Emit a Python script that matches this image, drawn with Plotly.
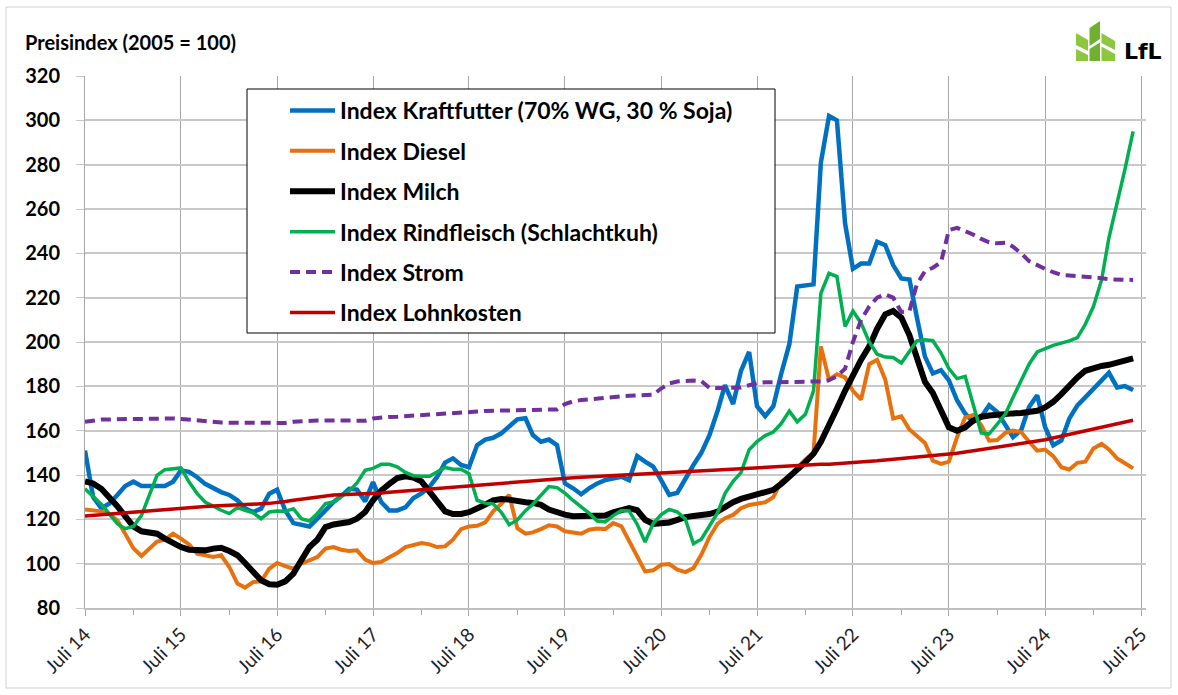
import pandas as pd
import plotly.graph_objects as go

# ---------------- data ----------------
months = pd.date_range("2014-07-01", periods=132, freq="MS").strftime("%Y-%m-%d").tolist()
tick_vals = [f"{y}-07-01" for y in range(2014, 2026)]
tick_text = [f"Juli {y % 100:02d}" for y in range(2014, 2026)]
y_ticks = list(range(80, 321, 20))

kraftfutter = [151, 130, 125, 127, 131, 135, 137, 135, 135, 135, 135, 137,
               142, 141.4, 139, 136, 134, 132.3, 131, 128.6, 125, 123.3, 124.8, 131.6,
               133.4, 124, 118.3, 117.6, 116.8, 120.3, 124.4, 127.8, 130.4, 133.8, 133.4, 128.1,
               136.8, 127.8, 124, 124, 125.4, 129.5, 131.7, 134.7, 139, 145.6, 147.5, 144.5,
               143.5, 153.5, 156, 156.8, 158.8, 161.8, 165.1, 165.6, 158, 155, 156, 153.5,
               136.2, 134, 131.3, 134, 136.2, 137.7, 138.5, 139.2, 137.7, 148.5, 146, 143.8,
               137.7, 131, 132, 138.5, 144.5, 150, 158, 169, 180.5, 172, 187, 195.5,
               171, 166.5, 171, 185.7, 199, 225, 225.3, 226, 281, 302, 300, 253.5,
               233, 235.4, 235.4, 245.2, 243.7, 234.7, 228.7, 228.2, 211.3, 193.4, 185.8, 187.3,
               182.7, 173.7, 167.7, 164, 166.2, 171.4, 168.4, 162.4, 157.1, 160.2, 170.7, 176,
               161.7, 153.4, 155.6, 165.4, 171.4, 175, 179, 183, 186.1, 179.5, 180.1, 178.3]

diesel = [124.4, 124.1, 123.6, 122.3, 119.5, 113.5, 107, 103.5, 106.8, 110, 110.8, 113.5,
          111.3, 108.7, 104.5, 103.8, 103, 103.8, 98.5, 91, 89.2, 91.7, 92, 97.7,
          100.3, 98.9, 97.7, 100, 101.5, 103, 106.8, 107.5, 106.3, 105.7, 106, 101.8,
          100.3, 100.8, 102.9, 104.8, 107.5, 108.3, 109.3, 108.7, 107.5, 107.8, 110.8, 115.6,
          116.8, 117.1, 118.6, 123.6, 127, 131, 116, 113.5, 114.1, 115.6, 117.3, 116.8,
          114.6, 114.1, 113.5, 115.3, 115.9, 115.6, 118.3, 116.8, 110, 103.3, 96.5, 97,
          99.5, 99.8, 97.3, 96.2, 98, 104, 112, 118, 120.5, 122, 125, 126.5,
          127, 127.7, 130, 137, 139.5, 143.5, 147, 150, 198, 183, 185.5, 184,
          178, 174, 190, 192, 183, 165.5, 166.5, 160.5, 157.5, 154.5, 146.5, 145,
          146, 157, 166, 167, 162.5, 155.5, 155.8, 159, 160, 159.4, 155, 151,
          151.5, 148.5, 143.5, 142.5, 145.5, 146, 152, 154, 151.5, 147.5, 145.3, 143]

milch = [137.1, 136.2, 133.8, 130.1, 125.9, 121.4, 116.8, 114.6, 114, 113.5, 111.3, 109,
         107.5, 106.3, 106, 106, 106.8, 107.2, 105.7, 103.8, 100.3, 96.2, 92.5, 90.7,
         90.5, 92, 95.5, 101.5, 107.5, 110.8, 116.5, 117.7, 118.3, 118.8, 120.3, 123.3,
         128.6, 133, 136, 138.6, 139.4, 138.9, 137.1, 132.6, 128.1, 123.6, 122.4, 122.4,
         123.2, 124.7, 126.6, 128.6, 129.2, 128.9, 128, 127.7, 127.4, 126.5, 124.4, 122.9,
         122.1, 121.4, 121.4, 121.4, 121.4, 121.7, 123.2, 124.4, 125.1, 124.1, 119.8, 117.9,
         118, 118.6, 119.8, 121, 121.5, 121.8, 122.4, 123.5, 125.8, 127.7, 129.2, 130.3,
         131.2, 132, 133.3, 136, 139, 142.5, 145.8, 149.6, 155, 162, 170, 178,
         185.5, 192, 198, 206, 212.5, 214, 211, 203, 193, 182, 177, 169,
         161.5, 160, 161.5, 164.5, 166.3, 166.8, 167.3, 167.6, 167.8, 168, 168.2, 169,
         170.5, 173, 176.5, 180.5, 184, 187, 188.3, 189.2, 189.7, 190.5, 191.8, 192.6]

rindfleisch = [133.8, 130.1, 126.8, 122.6, 118, 115.8, 116.8, 121.8, 130.1, 139.8, 142.4, 142.9,
               143.2, 136.8, 131.6, 127.8, 125.9, 124.1, 122.6, 125.3, 124.1, 122.9, 120.3, 123.3,
               123.8, 123.6, 124.8, 120.3, 119.2, 122.6, 127.1, 127.8, 130.1, 132.8, 136.4, 142.1,
               143, 144.8, 144.8, 143.7, 141.2, 139.7, 139.4, 139.4, 141.4, 143.4, 142.6, 142.6,
               140.6, 128.6, 127.3, 127, 123.2, 117.6, 119.7, 123.9, 126.8, 131, 134.8, 134.3,
               131.8, 128.5, 125.7, 122.8, 119.2, 118.8, 121.7, 124, 123.8, 117.8, 109.8, 118.1,
               122.1, 124.5, 123.3, 120.2, 109, 111, 117, 123, 131.6, 137.2, 141.1, 151.4,
               155.1, 157.8, 159.4, 163.2, 168.8, 164, 167.4, 178, 222, 231, 229.5, 207,
               214, 208.5, 200, 194.5, 193.2, 193, 190.5, 195.5, 200.5, 201, 200.6, 195,
               188, 183.5, 184.5, 172, 159, 158.5, 163, 167.5, 175, 183, 190, 195.5,
               197, 198.5, 199.5, 200.5, 202, 208, 216, 228, 247, 262, 278, 295]

strom = [164, 164.5, 165, 165, 165.2, 165.2, 165.3, 165.3, 165.4, 165.4, 165.5, 165.5,
         165.3, 165, 164.5, 164, 163.8, 163.7, 163.6, 163.6, 163.5, 163.5, 163.4, 163.3,
         163.2, 163.5, 164, 164.3, 164.5, 164.6, 164.6, 164.6, 164.6, 164.6, 164.5, 164.5,
         165.5, 166, 166.2, 166.3, 166.5, 166.8, 167.2, 167.4, 167.5, 167.5, 167.6, 167.8,
         168.2, 168.6, 168.9, 169, 169.1, 169.2, 169.3, 169.4, 169.4, 169.4, 169.5, 169.6,
         172, 173.2, 173.8, 174.2, 174.6, 175, 175.3, 175.5, 175.7, 175.9, 176, 176.2,
         179, 181.3, 182.2, 182.5, 182.6, 182.4, 179.3, 179.2, 179.2, 179.3, 179.5, 180.5,
         181.5, 181.8, 181.9, 181.9, 181.9, 182, 182, 182, 182.2, 182.8, 184.5, 188,
         200, 210, 216, 220, 221.5, 220, 213.5, 214, 226, 232, 233.5, 236,
         250.5, 251.5, 250, 248.5, 246.5, 245, 244.5, 244.8, 243, 240, 236.5, 234.5,
         233, 231.5, 230.2, 230, 229.8, 229.6, 229.2, 228.8, 228.3, 228.1, 228, 228]

lohnkosten = [121.5, 121.8, 122.1, 122.4, 122.7, 123.0, 123.3, 123.6, 123.9, 124.2, 124.5, 124.9,
              125.3, 125.5, 125.6, 125.8, 126.0, 126.1, 126.3, 126.5, 126.7, 126.9, 127.0, 127.2,
              127.4, 128.0, 128.6, 129.1, 129.7, 130.3, 130.8, 131.0, 131.1, 131.2, 131.3, 131.5,
              131.6, 131.9, 132.2, 132.5, 132.8, 133.1, 133.4, 133.7, 134.0, 134.3, 134.6, 134.9,
              135.2, 135.5, 135.8, 136.1, 136.3, 136.6, 136.9, 137.2, 137.5, 137.7, 138.0, 138.3,
              138.6, 138.8, 139.0, 139.2, 139.4, 139.6, 139.8, 139.9, 140.1, 140.3, 140.5, 140.7,
              140.9, 141.1, 141.3, 141.5, 141.7, 141.9, 142.1, 142.3, 142.5, 142.7, 142.9, 143.1,
              143.3, 143.5, 143.7, 143.8, 144.0, 144.2, 144.4, 144.6, 144.8, 144.9, 145.1, 145.3,
              145.5, 145.8, 146.1, 146.4, 146.8, 147.1, 147.4, 147.7, 148.0, 148.4, 148.7, 149.0,
              149.3, 149.8, 150.4, 150.9, 151.5, 152.0, 152.6, 153.1, 153.7, 154.2, 154.8, 155.3,
              155.9, 156.7, 157.5, 158.3, 159.1, 159.9, 160.7, 161.5, 162.3, 163.1, 163.9, 164.7]

series_names = ["Index Kraftfutter (70% WG, 30 % Soja)", "Index Diesel", "Index Milch",
                "Index Rindfleisch (Schlachtkuh)", "Index Strom", "Index Lohnkosten"]
series_values = [kraftfutter, diesel, milch, rindfleisch, strom, lohnkosten]
series_colors = ["#0070C0", "#E8710E", "#000000", "#00B050", "#7030A0", "#C00000"]
series_widths = [4.5, 4, 6, 3.5, 4, 3.5]
series_dash = ["solid", "solid", "solid", "solid", "10px,6px", "solid"]

# ---------------- geometry helpers ----------------
W, H = 1178, 695
L, R, T, B = 85, 1146, 76, 608


def px(x):
    return (x - L) / (R - L)


def py(y):
    return (B - y) / (B - T)


def poly(points, color):
    d = "M " + " L ".join(f"{px(x):.5f},{py(y):.5f}" for x, y in points) + " Z"
    return dict(type="path", xref="paper", yref="paper", path=d,
                fillcolor=color, line=dict(width=0), layer="above")


FONT = "Lato"

fig = go.Figure()
for k, (name, vals, col, w, dash) in enumerate(zip(series_names, series_values, series_colors,
                                                   series_widths, series_dash)):
    fig.add_trace(go.Scatter(x=months, y=vals, name=name, mode="lines",
                             legendgroup=f"g{k}",
                             line=dict(color=col, width=w, dash=dash)))

shapes = [
    # outer chart border
    dict(type="rect", xref="paper", yref="paper", x0=px(6), x1=px(1171), y0=py(7), y1=py(688),
         line=dict(color="#D0D0D0", width=1), fillcolor="rgba(0,0,0,0)", layer="below"),
    # legend box
    dict(type="rect", xref="paper", yref="paper", x0=px(247), x1=px(775), y0=py(89), y1=py(333),
         line=dict(color="#000000", width=1), fillcolor="white", layer="above"),
]
# LfL logo leaves
leaf_light = "#8DC63F"
leaf_dark = "#6FB02E"
shapes += [
    poly([(1076, 33), (1088, 40), (1088, 51), (1076, 45)], leaf_light),
    poly([(1076, 49), (1088, 55), (1088, 61), (1076, 61)], leaf_light),
    poly([(1089.5, 28), (1100, 21), (1100, 39), (1089.5, 46)], leaf_dark),
    poly([(1089.5, 49), (1100, 42.5), (1100, 61), (1089.5, 61)], leaf_dark),
    poly([(1101.5, 33), (1115, 41), (1115, 50), (1101.5, 43)], leaf_light),
    poly([(1101.5, 46.5), (1115, 54), (1115, 61), (1101.5, 61)], leaf_light),
]

annotations = [
    dict(text="Preisindex (2005 = 100)", xref="paper", yref="paper", x=px(23), y=py(42),
         xanchor="left", yanchor="middle", showarrow=False,
         font=dict(family=FONT, size=20, color="black", weight="bold")),
    dict(text="LfL", xref="paper", yref="paper", x=px(1143), y=py(52),
         xanchor="center", yanchor="middle", showarrow=False,
         font=dict(family="DejaVu Sans", size=22, color="black", weight="bold")),
]

fig.update_layout(
    width=W, height=H,
    margin=dict(l=L, r=W - R, t=T, b=H - B, pad=0),
    paper_bgcolor="white", plot_bgcolor="white",
    showlegend=True,
    legend=dict(x=px(285), y=py(89), xanchor="left", yanchor="top",
                bgcolor="rgba(0,0,0,0)", borderwidth=0,
                traceorder="grouped", tracegroupgap=7.5, itemwidth=45,
                font=dict(family=FONT, size=23, color="black", weight="bold")),
    xaxis=dict(type="date", range=["2014-07-01", "2025-07-20"],
               tickmode="array", tickvals=tick_vals, ticktext=tick_text, tickangle=-45,
               tickfont=dict(family=FONT, size=19, color="#222222"),
               showgrid=True, gridcolor="#A6A6A6", gridwidth=1,
               showline=True, linecolor="#BFBFBF", linewidth=2,
               ticks="outside", ticklen=6, tickcolor="#A6A6A6",
               minor=dict(tickmode="linear", tick0="2015-01-01", dtick="M12",
                          ticks="outside", ticklen=5, tickcolor="#A6A6A6", showgrid=False),
               zeroline=False, fixedrange=True),
    yaxis=dict(range=[80, 320], tickmode="array", tickvals=y_ticks,
               showgrid=True, gridcolor="#C8C8C8", gridwidth=1.5,
               showline=True, linecolor="#A6A6A6", linewidth=1,
               ticks="outside", ticklen=8, tickcolor="#C8C8C8",
               tickfont=dict(family=FONT, size=20, color="black", weight="bold"),
               ticklabelstandoff=12, zeroline=False, fixedrange=True),
    shapes=shapes,
    annotations=annotations,
)

fig.write_html("out.html", config={"displayModeBar": False},
               post_script="document.body.style.margin='0px';")
